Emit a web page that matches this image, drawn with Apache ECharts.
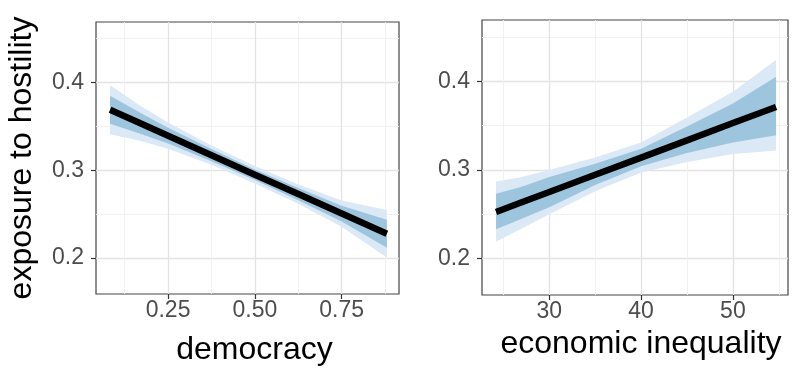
<!DOCTYPE html>
<html>
<head>
<meta charset="utf-8">
<script src="https://cdn.jsdelivr.net/npm/echarts@6/dist/echarts.min.js"></script>
<style>html,body{margin:0;padding:0;background:#fff}#c{width:800px;height:371px}</style>
</head>
<body>
<div id="c"></div>
<script>
// ---- data ----
const demX      = [0.083, 0.17, 0.25, 0.375, 0.5, 0.625, 0.75, 0.88];
const demFit    = [0.369, 0.3536, 0.3394, 0.3172, 0.295, 0.2729, 0.2507, 0.2276];
const demDarkLo = [0.353, 0.3416, 0.3304, 0.3102, 0.289, 0.2659, 0.2417, 0.2116];
const demDarkHi = [0.385, 0.3656, 0.3484, 0.3242, 0.301, 0.2799, 0.2597, 0.2436];
const demLightLo= [0.341, 0.3336, 0.3244, 0.3062, 0.285, 0.2619, 0.2357, 0.2006];
const demLightHi= [0.397, 0.3736, 0.3544, 0.3282, 0.305, 0.2839, 0.2657, 0.2546];

const ineqX      = [24.2, 27, 30, 35, 40, 45, 50, 54.7];
const ineqFit    = [0.2526, 0.2635, 0.2751, 0.2945, 0.3139, 0.3333, 0.3528, 0.371];
const ineqDarkLo = [0.233, 0.245, 0.258, 0.283, 0.304, 0.319, 0.331, 0.339];
const ineqDarkHi = [0.273, 0.281, 0.292, 0.307, 0.324, 0.349, 0.375, 0.405];
const ineqLightLo= [0.219, 0.234, 0.250, 0.276, 0.297, 0.309, 0.318, 0.322];
const ineqLightHi= [0.287, 0.292, 0.300, 0.314, 0.331, 0.359, 0.388, 0.424];

const yTicks = [0.2, 0.3, 0.4];
const yTickLabels = ['0.2', '0.3', '0.4'];
const yMinor = [0.25, 0.35, 0.45];
const demTicks = [0.25, 0.5, 0.75];
const demTickLabels = ['0.25', '0.50', '0.75'];
const demMinor = [0.125, 0.375, 0.625, 0.875];
const ineqTicks = [30, 40, 50];
const ineqTickLabels = ['30', '40', '50'];
const ineqMinor = [25, 35, 45, 55];

const yTitle = 'exposure to hostility';
const xTitles = ['democracy', 'economic inequality'];

// ---- chart ----
const FONT = 'Liberation Sans, Arial, sans-serif';
const LIGHT = '#dbe8f5', DARK = '#9dc6de';

function labelMap(vals, labels) {
  return function (v) {
    for (let i = 0; i < vals.length; i++) if (Math.abs(vals[i] - v) < 1e-9) return labels[i];
    return '';
  };
}

function mainAxis(gridIndex, min, max, ticks, labels, extra) {
  return Object.assign({
    type: 'value', gridIndex, min, max,
    axisLine: { show: false },
    axisTick: { show: true, customValues: ticks, length: 5, inside: false, lineStyle: { color: '#333', width: 1.2 } },
    axisLabel: { show: true, customValues: ticks, formatter: labelMap(ticks, labels), color: '#4d4d4d', fontSize: 23, fontFamily: FONT },
    splitLine: { show: true, lineStyle: { color: '#e3e3e3', width: 1.3 } }
  }, extra || {});
}
function minorAxis(gridIndex, min, max, ticks, extra) {
  return Object.assign({
    type: 'value', gridIndex, min, max,
    axisLine: { show: false },
    axisTick: { show: false, customValues: ticks },
    axisLabel: { show: false },
    splitLine: { show: true, lineStyle: { color: '#efefef', width: 0.9 } }
  }, extra || {});
}

function bandSeries(xIdx, yIdx, xs, lo, hi, color) {
  return {
    type: 'custom', xAxisIndex: xIdx, yAxisIndex: yIdx, silent: true,
    data: [0],
    renderItem: function (params, api) {
      const pts = [];
      for (let i = 0; i < xs.length; i++) pts.push(api.coord([xs[i], hi[i]]));
      for (let i = xs.length - 1; i >= 0; i--) pts.push(api.coord([xs[i], lo[i]]));
      return { type: 'polygon', shape: { points: pts }, style: { fill: color } };
    },
    z: 2
  };
}
function lineSeries(xIdx, yIdx, xs, ys) {
  return {
    type: 'line', xAxisIndex: xIdx, yAxisIndex: yIdx, silent: true,
    data: xs.map((x, i) => [x, ys[i]]), showSymbol: false, symbol: 'none',
    lineStyle: { color: '#000', width: 6.5, cap: 'butt' }, z: 5
  };
}

const YMIN = 0.159, YMAX = 0.469;
const nameStyle = { color: '#000', fontSize: 32, fontFamily: FONT };

const option = {
  animation: false,
  backgroundColor: '#fff',
  grid: [
    { left: 96, right: 401, top: 22, bottom: 77, show: true, borderColor: '#444', borderWidth: 1.2, backgroundColor: '#fff', containLabel: false },
    { left: 482, right: 12, top: 20, bottom: 76, show: true, borderColor: '#444', borderWidth: 1.2, backgroundColor: '#fff', containLabel: false }
  ],
  xAxis: [
    mainAxis(0, 0.0425, 0.915, demTicks, demTickLabels, { axisLabel: { customValues: demTicks, formatter: labelMap(demTicks, demTickLabels), color: '#4d4d4d', fontSize: 23, fontFamily: FONT, margin: 5 }, name: xTitles[0], nameLocation: 'middle', nameGap: 40, nameTextStyle: Object.assign({ padding: [0, 0, 0, 14] }, nameStyle) }),
    minorAxis(0, 0.0425, 0.915, demMinor),
    mainAxis(1, 22.67, 56.0, ineqTicks, ineqTickLabels, { axisLabel: { customValues: ineqTicks, formatter: labelMap(ineqTicks, ineqTickLabels), color: '#4d4d4d', fontSize: 23, fontFamily: FONT, margin: 5 }, name: xTitles[1], nameLocation: 'middle', nameGap: 33, nameTextStyle: Object.assign({ padding: [0, 0, 0, 12] }, nameStyle) }),
    minorAxis(1, 22.67, 56.0, ineqMinor)
  ],
  yAxis: [
    mainAxis(0, YMIN, YMAX, yTicks, yTickLabels, { axisLabel: { customValues: yTicks, formatter: labelMap(yTicks, yTickLabels), color: '#4d4d4d', fontSize: 23, fontFamily: FONT, margin: 12 }, name: yTitle, nameLocation: 'middle', nameGap: 58, nameTextStyle: nameStyle }),
    minorAxis(0, YMIN, YMAX, yMinor),
    mainAxis(1, YMIN, YMAX, yTicks, yTickLabels, { axisLabel: { customValues: yTicks, formatter: labelMap(yTicks, yTickLabels), color: '#4d4d4d', fontSize: 23, fontFamily: FONT, margin: 12 } }),
    minorAxis(1, YMIN, YMAX, yMinor)
  ],
  series: [
    bandSeries(0, 0, demX, demLightLo, demLightHi, LIGHT),
    bandSeries(0, 0, demX, demDarkLo, demDarkHi, DARK),
    lineSeries(0, 0, demX, demFit),
    bandSeries(2, 2, ineqX, ineqLightLo, ineqLightHi, LIGHT),
    bandSeries(2, 2, ineqX, ineqDarkLo, ineqDarkHi, DARK),
    lineSeries(2, 2, ineqX, ineqFit)
  ]
};

const chart = echarts.init(document.getElementById('c'), null, { renderer: 'canvas' });
chart.setOption(option);
</script>
</body>
</html>
